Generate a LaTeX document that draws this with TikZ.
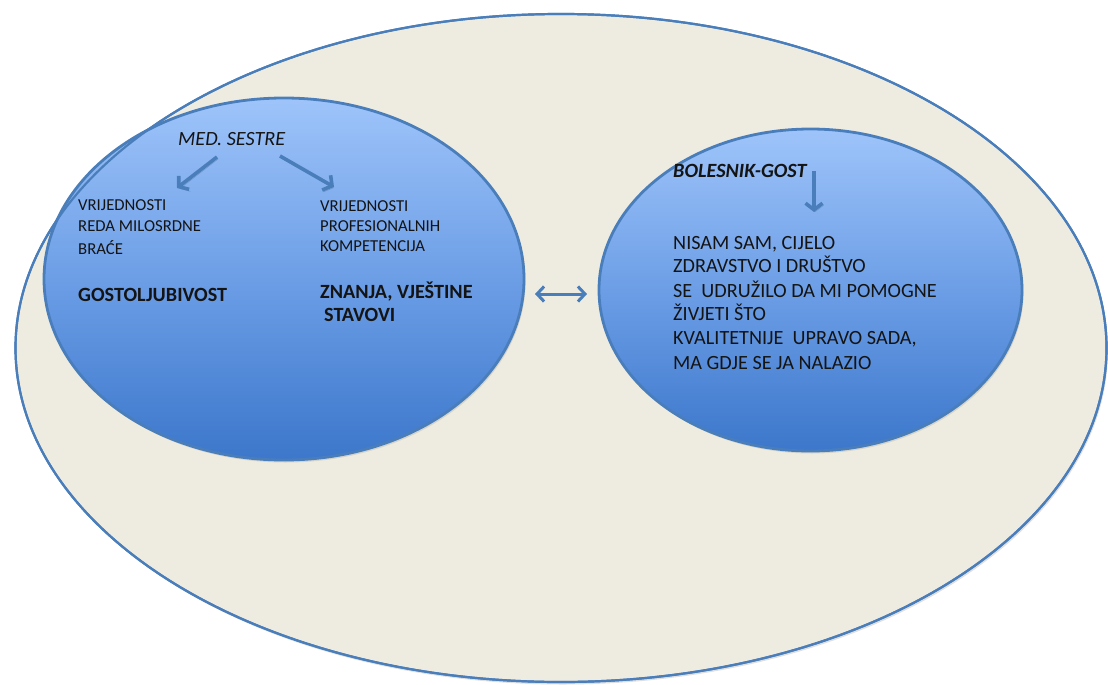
\documentclass[tikz,border=0pt]{standalone}
\usepackage{fontspec}
\setmainfont{Carlito}
\usetikzlibrary{shapes.geometric,arrows.meta,shadows}

\definecolor{rim}{RGB}{74,126,187}
\definecolor{pale}{RGB}{238,236,225}
\definecolor{sky}{RGB}{158,196,250}
\definecolor{midblue}{RGB}{108,158,230}
\definecolor{deep}{RGB}{60,119,203}
\definecolor{ink}{RGB}{20,20,20}

\tikzset{
  outer/.style={ellipse, inner sep=0pt, minimum width=1091pt, minimum height=668pt},
  bubble/.style={ellipse, inner sep=0pt, draw=rim, line width=2.8pt,
    top color=sky, bottom color=deep, middle color=midblue,
    drop shadow={opacity=0.22, shadow xshift=1.5pt, shadow yshift=-2.5pt}},
  txt/.style={anchor=base west, inner sep=0pt, text=ink},
  small/.style={txt, font=\fontsize{16.7}{20}\selectfont},
  big/.style={txt, font=\fontsize{20.2}{24}\selectfont},
  bigbold/.style={txt, font=\fontsize{20.2}{24}\selectfont\bfseries},
  arr/.style={draw=rim, line width=3.6pt,
    preaction={draw=black, draw opacity=0.18, transform canvas={shift={(1.2pt,-2pt)}}},
    -{Straight Barb[length=6.5pt,width=17pt]}},
  twoway/.style={draw=rim, line width=3pt,
    {Straight Barb[length=7pt,width=15pt]}-{Straight Barb[length=7pt,width=15pt]}}
}

\begin{document}
\begin{tikzpicture}[x=1pt,y=-1pt]
  \path[use as bounding box] (0,0) rectangle (1108,685);

  % outer field
  \node[outer, fill=pale, draw=rim, line width=2.2pt,
    drop shadow={opacity=0.25, shadow xshift=1.5pt, shadow yshift=-2.5pt}]
    (field) at (561,348) {};

  % the two groups
  \node[bubble, minimum width=480pt, minimum height=362pt] (nurses) at (284,279) {};
  \node[bubble, minimum width=423pt, minimum height=322pt] (patient) at (810.5,290) {};

  % outline of the field passes over the left group
  \node[outer, draw=rim, line width=2.2pt] (fieldrim) at (field) {};

  % left group texts
  \node[big, font=\fontsize{20.2}{24}\selectfont\itshape] (med) at (178,145) {MED. SESTRE};
  \node[small] (l1) at (78,210) {VRIJEDNOSTI};
  \node[small] (l2) at (78,231) {REDA MILOSRDNE};
  \node[small] (l3) at (78,254) {BRAĆE};
  \node[small] (r1) at (320,211) {VRIJEDNOSTI};
  \node[small] (r2) at (320,231) {PROFESIONALNIH};
  \node[small] (r3) at (320,251) {KOMPETENCIJA};
  \node[bigbold] (gost) at (78,301) {GOSTOLJUBIVOST};
  \node[bigbold] (znanja) at (320,298) {ZNANJA, VJEŠTINE};
  \node[bigbold] (stavovi) at (324,321) {STAVOVI};

  % right group texts
  \node[bigbold, font=\fontsize{20.2}{24}\selectfont\bfseries\itshape] (bol) at (673,177) {BOLESNIK-GOST};
  \node[big] (p1) at (673,249) {NISAM SAM, CIJELO};
  \node[big] (p2) at (673,272) {ZDRAVSTVO I DRUŠTVO};
  \node[big] (p3) at (673,297) {SE~ UDRUŽILO DA MI POMOGNE};
  \node[big] (p4) at (673,320) {ŽIVJETI ŠTO};
  \node[big] (p5) at (673,344) {KVALITETNIJE~ UPRAVO SADA,};
  \node[big] (p6) at (673,369) {MA GDJE SE JA NALAZIO};

  % arrow ends
  \coordinate (medL) at (217,157);
  \coordinate (colL) at (177,188);
  \coordinate (medR) at (280,156);
  \coordinate (colR) at (334,187);
  \coordinate (bolTail) at (814,171);
  \coordinate (bolTip) at (814,212);
  \coordinate (linkL) at (535,294);
  \coordinate (linkR) at (587,294);

  \draw[arr] (medL) -- (colL);
  \draw[arr] (medR) -- (colR);
  \draw[arr] (bolTail) -- (bolTip);
  \draw[twoway] (linkL) -- (linkR);
\end{tikzpicture}
\end{document}
